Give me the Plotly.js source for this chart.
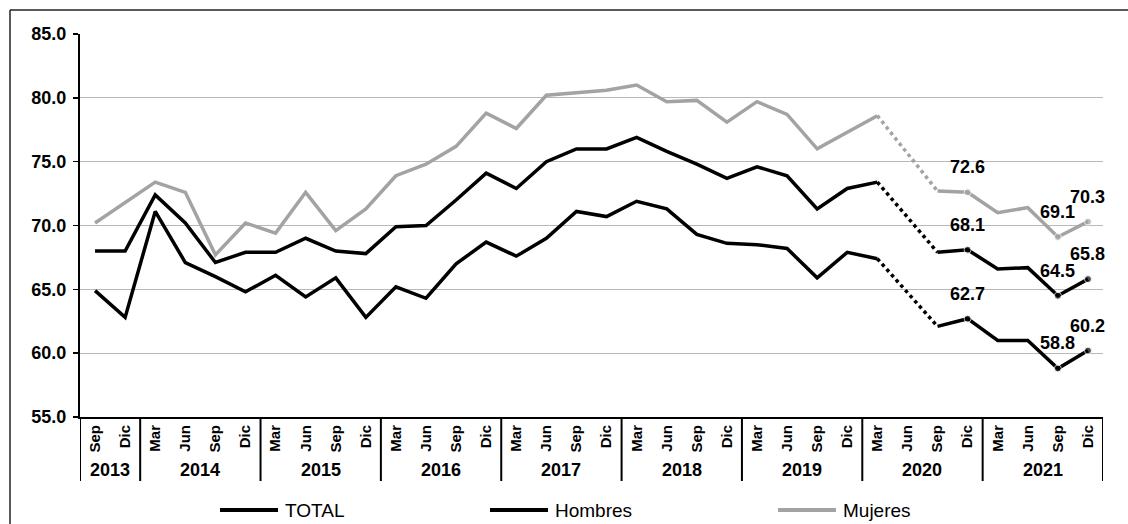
<!DOCTYPE html>
<html>
<head>
<meta charset="utf-8">
<script src="https://cdn.plot.ly/plotly-3.0.1.min.js"></script>
<style>html,body{margin:0;padding:0;background:#fff;}#chart{width:1128px;height:524px;}</style>
</head>
<body>
<div id="chart"></div>
<script>
// ---- data ----
const years  = [2013,2013,2014,2014,2014,2014,2015,2015,2015,2015,2016,2016,2016,2016,2017,2017,2017,2017,2018,2018,2018,2018,2019,2019,2019,2019,2020,2020,2020,2020,2021,2021,2021,2021];
const months = ["Sep","Dic","Mar","Jun","Sep","Dic","Mar","Jun","Sep","Dic","Mar","Jun","Sep","Dic","Mar","Jun","Sep","Dic","Mar","Jun","Sep","Dic","Mar","Jun","Sep","Dic","Mar","Jun","Sep","Dic","Mar","Jun","Sep","Dic"];
const total   = [68.0,68.0,72.4,70.2,67.1,67.9,67.9,69.0,68.0,67.8,69.9,70.0,72.0,74.1,72.9,75.0,76.0,76.0,76.9,75.8,74.8,73.7,74.6,73.9,71.3,72.9,73.4,null,67.9,68.1,66.6,66.7,64.5,65.8];
const hombres = [64.9,62.8,71.1,67.1,66.0,64.8,66.1,64.4,65.9,62.8,65.2,64.3,67.0,68.7,67.6,69.0,71.1,70.7,71.9,71.3,69.3,68.6,68.5,68.2,65.9,67.9,67.4,null,62.1,62.7,61.0,61.0,58.8,60.2];
const mujeres = [70.2,71.8,73.4,72.6,67.7,70.2,69.4,72.6,69.6,71.3,73.9,74.8,76.2,78.8,77.6,80.2,80.4,80.6,81.0,79.7,79.8,78.1,79.7,78.7,76.0,77.3,78.6,null,72.7,72.6,71.0,71.4,69.1,70.3];
const labelIdx = [29,32,33];

const seriesNames  = ["TOTAL","Hombres","Mujeres"];
const seriesValues = [total, hombres, mujeres];
const seriesColors = ["#000000","#000000","#a3a3a3"];

// ---- layout constants ----
const W = 1128, H = 524;
const M = {l: 80, r: 25, t: 34, b: 107};
const plotW = W - M.l - M.r, plotH = H - M.t - M.b;
const px2x = p => (p - M.l) / plotW;          // pixel -> paper x
const py2y = p => (H - M.b - p) / plotH;      // pixel -> paper y
const legendStartPx = [220, 490, 778];
const legendLinePx = 58, legendY = 510;
const FONT = "Liberation Sans, Arial, sans-serif";

// ---- build ----
const idx = months.map((_, i) => i);
const traces = [];
const annotations = [];
const shapes = [];

seriesValues.forEach((vals, s) => {
  const sizes = vals.map((_, i) => labelIdx.includes(i) ? 7 : 0);
  traces.push({
    x: idx, y: vals, name: seriesNames[s], type: "scatter", mode: "lines+markers",
    connectgaps: false, showlegend: false,
    line: {color: seriesColors[s], width: 3.5},
    marker: {size: sizes, color: seriesColors[s]},
    hoverinfo: "skip"
  });
  // dotted bridge over missing values
  const bridge = vals.map(() => null);
  vals.forEach((v, i) => {
    if (v === null) {
      if (i > 0) bridge[i-1] = vals[i-1];
      if (i < vals.length-1) bridge[i+1] = vals[i+1];
    }
  });
  traces.push({
    x: idx, y: bridge, type: "scatter", mode: "lines", connectgaps: true, showlegend: false,
    line: {color: seriesColors[s], width: 3.5, dash: "dot"}, hoverinfo: "skip"
  });
  labelIdx.forEach(i => {
    annotations.push({
      x: i, y: vals[i], xref: "x", yref: "y", text: vals[i].toFixed(1), showarrow: false,
      yshift: 25, xanchor: "center", yanchor: "middle",
      font: {family: FONT, size: 18, color: "#000", weight: "bold"}
    });
  });
  // manual legend entry
  const x0 = legendStartPx[s];
  shapes.push({type: "line", xref: "paper", yref: "paper",
    x0: px2x(x0), x1: px2x(x0 + legendLinePx), y0: py2y(legendY), y1: py2y(legendY),
    line: {color: seriesColors[s], width: 4}});
  annotations.push({
    x: px2x(x0 + legendLinePx + 5), y: py2y(legendY), xref: "paper", yref: "paper",
    text: seriesNames[s], showarrow: false, xanchor: "left", yanchor: "middle",
    font: {family: FONT, size: 19, color: "#000"}
  });
});

// year labels and separators
const uniqYears = [...new Set(years)];
uniqYears.forEach(y => {
  const ids = idx.filter(i => years[i] === y);
  const first = ids[0], last = ids[ids.length-1];
  annotations.push({
    x: (first + last) / 2, y: 0, xref: "x", yref: "paper", text: String(y), showarrow: false,
    yshift: -53, xanchor: "center", yanchor: "middle",
    font: {family: FONT, size: 18, color: "#000", weight: "bold"}
  });
  shapes.push({type: "line", xref: "x", yref: "paper", x0: first - 0.5, x1: first - 0.5, y0: 0, y1: -64/plotH,
    line: {color: "#000", width: 2}});
  if (y === uniqYears[uniqYears.length-1]) {
    shapes.push({type: "line", xref: "x", yref: "paper", x0: last + 0.5, x1: last + 0.5, y0: 0, y1: -64/plotH,
      line: {color: "#000", width: 2}});
  }
});

// outer frame (left and top)
shapes.push({type: "line", xref: "paper", yref: "paper", x0: px2x(10), x1: px2x(10), y0: py2y(10), y1: py2y(H + 10),
  line: {color: "#222", width: 1.5}});
shapes.push({type: "line", xref: "paper", yref: "paper", x0: px2x(10), x1: px2x(W + 10), y0: py2y(10), y1: py2y(10),
  line: {color: "#222", width: 1.5}});

const layout = {
  width: W, height: H,
  margin: M,
  paper_bgcolor: "#fff", plot_bgcolor: "#fff",
  font: {family: FONT, color: "#000"},
  showlegend: false,
  xaxis: {
    range: [-0.5, months.length - 0.5], tickvals: idx, ticktext: months, tickangle: -90,
    showline: true, linecolor: "#000", linewidth: 2, showgrid: false, zeroline: false, ticks: "",
    automargin: false,
    tickfont: {family: FONT, size: 15, color: "#000", weight: "bold"}, fixedrange: true
  },
  yaxis: {
    range: [55, 85], tick0: 55, dtick: 5, tickformat: ".1f",
    showline: true, linecolor: "#000", linewidth: 2, showgrid: true, gridcolor: "#b8b8b8", gridwidth: 1,
    zeroline: false, ticks: "outside", ticklen: 5, tickcolor: "#000", tickwidth: 1.5,
    automargin: false, ticklabelstandoff: 3,
    tickfont: {family: FONT, size: 18, color: "#000", weight: "bold"}, fixedrange: true
  },
  annotations: annotations,
  shapes: shapes
};

Plotly.newPlot("chart", traces, layout, {displayModeBar: false, staticPlot: true});
</script>
</body>
</html>
